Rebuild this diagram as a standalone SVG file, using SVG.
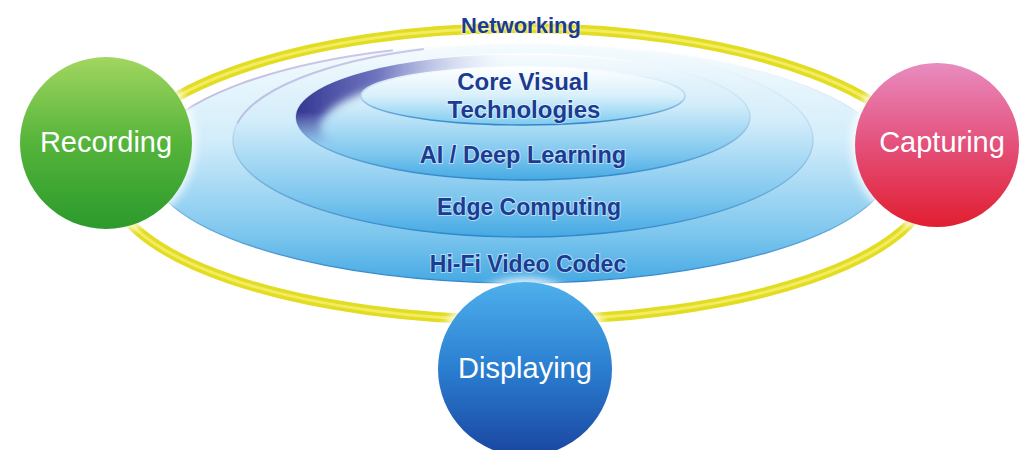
<svg xmlns="http://www.w3.org/2000/svg" width="1020" height="450" viewBox="0 0 1020 450">
  <style>
    .lbl { font-family: "Liberation Sans", Arial, sans-serif; font-weight: bold; fill: #1c3b92; text-anchor: middle; stroke: #ffffff; stroke-width: 2; stroke-opacity: 0.5; paint-order: stroke; }
    .node { font-family: "Liberation Sans", Arial, sans-serif; font-size: 29px; fill: #ffffff; text-anchor: middle; }
    .ring { stroke-width: 1.4; }
    .arc { fill: none; stroke: #b3b0dc; stroke-width: 2; opacity: 0.7; }
  </style>
  <defs>
    <linearGradient id="gRing" x1="0" y1="0" x2="0" y2="1">
      <stop offset="0" stop-color="#f6fbfe"/>
      <stop offset="0.4" stop-color="#d3edfa"/>
      <stop offset="0.8" stop-color="#7cc6ee"/>
      <stop offset="1" stop-color="#45a9e3"/>
    </linearGradient>
    <linearGradient id="gInner" x1="0" y1="0" x2="0" y2="1">
      <stop offset="0" stop-color="#ffffff"/>
      <stop offset="0.5" stop-color="#d8f0fb"/>
      <stop offset="1" stop-color="#7ccaf0"/>
    </linearGradient>
    <linearGradient id="gStroke" x1="0" y1="0" x2="0" y2="1">
      <stop offset="0" stop-color="#ffffff"/>
      <stop offset="0.45" stop-color="#b9d9f2"/>
      <stop offset="1" stop-color="#2f86c8"/>
    </linearGradient>
    <linearGradient id="gSwoosh" gradientUnits="userSpaceOnUse" x1="296" y1="0" x2="500" y2="0">
      <stop offset="0" stop-color="#2c2d8c" stop-opacity="0.95"/>
      <stop offset="0.4" stop-color="#4f53ad" stop-opacity="0.8"/>
      <stop offset="1" stop-color="#c0c4ec" stop-opacity="0"/>
    </linearGradient>
    <linearGradient id="gFade" gradientUnits="userSpaceOnUse" x1="0" y1="112" x2="0" y2="145">
      <stop offset="0" stop-color="#ffffff"/>
      <stop offset="1" stop-color="#000000"/>
    </linearGradient>
    <mask id="mFade" maskUnits="userSpaceOnUse" x="250" y="30" width="560" height="180">
      <rect x="250" y="30" width="560" height="180" fill="url(#gFade)"/>
    </mask>
    <linearGradient id="gGreen" x1="0" y1="0" x2="0" y2="1">
      <stop offset="0" stop-color="#a2d660"/>
      <stop offset="0.5" stop-color="#55b43a"/>
      <stop offset="1" stop-color="#2b9a2c"/>
    </linearGradient>
    <linearGradient id="gRed" x1="0" y1="0" x2="0" y2="1">
      <stop offset="0" stop-color="#e88cc0"/>
      <stop offset="0.5" stop-color="#e4507a"/>
      <stop offset="1" stop-color="#e11e30"/>
    </linearGradient>
    <linearGradient id="gBlue" x1="0" y1="0" x2="0" y2="1">
      <stop offset="0" stop-color="#4eb0ec"/>
      <stop offset="0.5" stop-color="#2a7ed0"/>
      <stop offset="1" stop-color="#1a45a0"/>
    </linearGradient>
    <filter id="blur" x="-20%" y="-50%" width="140%" height="200%">
      <feGaussianBlur stdDeviation="4"/>
    </filter>
    <filter id="halo" x="-20%" y="-20%" width="140%" height="140%">
      <feGaussianBlur stdDeviation="4"/>
    </filter>
    <clipPath id="clipE2">
      <ellipse cx="523" cy="117" rx="227" ry="63"/>
    </clipPath>
  </defs>

  <rect width="1020" height="450" fill="#ffffff"/>

  <g id="connectors">
    <path d="M 110,180 A 410 152 0 0 1 930,180 A 410 140 0 0 1 110,180 Z" fill="none" stroke="#e2dc22" stroke-width="10"/>
    <path d="M 110,180 A 410 152 0 0 1 930,180 A 410 140 0 0 1 110,180 Z" fill="none" stroke="#f5f070" stroke-width="3" opacity="0.8"/>
  </g>

  <g id="hifi-video-codec">
    <ellipse class="ring" cx="520" cy="163" rx="372" ry="120" fill="url(#gRing)" stroke="url(#gStroke)"/>
    <path class="arc" d="M 153.7,142.2 A 372 120 0 0 1 392.8,50.2"/>
    <text class="lbl" x="528" y="272" font-size="23">Hi-Fi Video Codec</text>
  </g>
  <g id="edge-computing">
    <ellipse class="ring" cx="523" cy="140" rx="290" ry="97" fill="url(#gRing)" stroke="url(#gStroke)"/>
    <path class="arc" d="M 237.4,123.2 A 290 97 0 0 1 423.8,48.9"/>
    <text class="lbl" x="529" y="215" font-size="23">Edge Computing</text>
  </g>
  <g id="ai-deep-learning">
    <ellipse class="ring" cx="523" cy="117" rx="227" ry="63" fill="url(#gRing)" stroke="url(#gStroke)"/>
    <g clip-path="url(#clipE2)">
      <g mask="url(#mFade)">
        <path d="M 270,30 H 780 V 200 H 270 Z M 320,128 A 240 62 0 1 0 800,128 A 240 62 0 1 0 320,128 Z" fill="url(#gSwoosh)" fill-rule="evenodd" filter="url(#blur)"/>
      </g>
    </g>
    <text class="lbl" x="523" y="163" font-size="23.5">AI / Deep Learning</text>
  </g>
  <g id="core-visual-technologies">
    <ellipse class="ring" cx="523" cy="96" rx="162" ry="29" fill="url(#gInner)" stroke="url(#gStroke)"/>
    <text class="lbl" x="523" y="90" font-size="24">Core Visual</text>
    <text class="lbl" x="524" y="118" font-size="24">Technologies</text>
  </g>

  <g id="networking">
    <text class="lbl" x="521" y="33" font-size="22" stroke-width="4" stroke-opacity="0.9">Networking</text>
  </g>

  <g id="recording">
    <circle cx="106" cy="143" r="90" fill="#ffffff" opacity="0.8" filter="url(#halo)"/>
    <circle cx="106" cy="143" r="86" fill="url(#gGreen)"/>
    <text class="node" x="106" y="152">Recording</text>
  </g>
  <g id="capturing">
    <circle cx="937" cy="145" r="86" fill="#ffffff" opacity="0.8" filter="url(#halo)"/>
    <circle cx="937" cy="145" r="82" fill="url(#gRed)"/>
    <text class="node" x="942" y="152">Capturing</text>
  </g>
  <g id="displaying">
    <circle cx="525" cy="369" r="91" fill="#ffffff" opacity="0.9" filter="url(#halo)"/>
    <circle cx="525" cy="369" r="87" fill="url(#gBlue)"/>
    <text class="node" x="525" y="378">Displaying</text>
  </g>
</svg>
